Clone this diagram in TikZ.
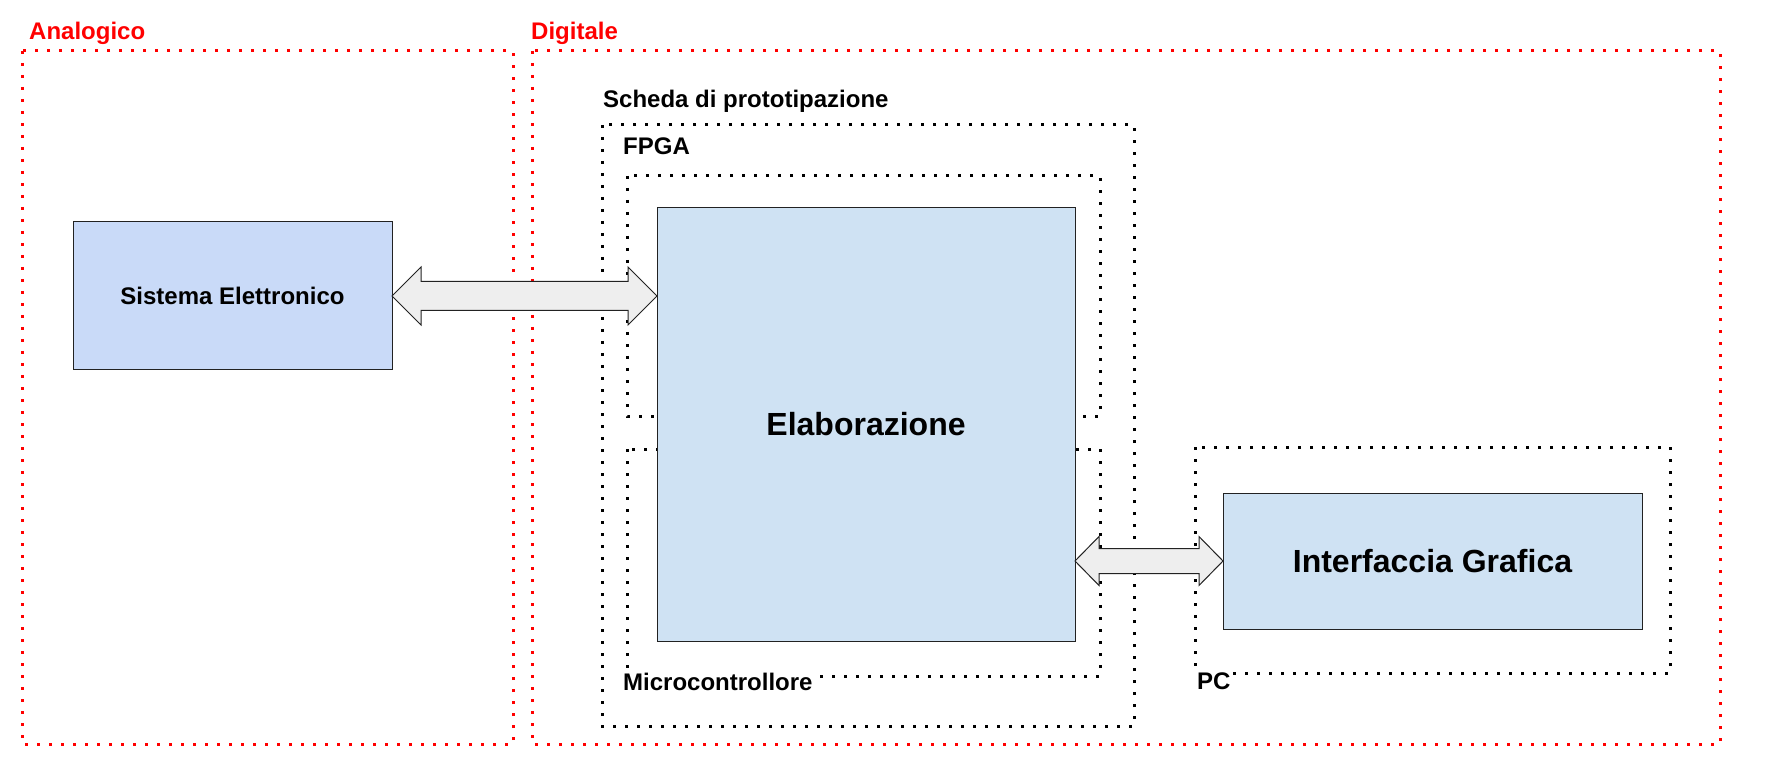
\documentclass[tikz,border=0pt]{standalone}
\usepackage{fontspec}
\setmainfont{Liberation Sans}
\usetikzlibrary{calc}
\definecolor{sysblue}{HTML}{C9DAF8}
\definecolor{procblue}{HTML}{CFE2F3}
\definecolor{arrowgray}{HTML}{EEEEEE}
\definecolor{edgegray}{HTML}{222222}
\begin{document}
\begin{tikzpicture}[x=1pt,y=-1pt,
  zone/.style={red,line width=3pt,dash pattern=on 3pt off 9pt},
  group/.style={black,line width=3pt,dash pattern=on 3pt off 9pt},
  zonelabel/.style={anchor=base west,inner sep=0pt,text=red,font=\fontsize{24}{28}\selectfont\bfseries},
  grouplabel/.style={anchor=base west,inner sep=0pt,font=\fontsize{24}{28}\selectfont\bfseries},
  block/.style={draw=edgegray,line width=1pt,inner sep=0pt,outer sep=0pt},
  bigarrow/.style={draw=edgegray,fill=arrowgray,line width=1pt,line join=miter}]
\useasboundingbox (0,0) rectangle (1773,759);

% analog / digital zones
\draw[zone] (22,51) rectangle (513,744);
\draw[zone] (532,51) rectangle (1720,744);
\node[zonelabel] (analog) at (29,40) {Analogico};
\node[zonelabel] (digital) at (531,40) {Digitale};

% boards
\draw[group] (602,125) rectangle (1134,726);
\draw[group] (627,176) rectangle (1100,416);
\draw[group] (627,449) rectangle (1100,676);
\draw[group] (1195,447) rectangle (1670,673);
\node[grouplabel] (board) at (603,108) {Scheda di prototipazione};
\node[grouplabel] (fpga) at (623,155) {FPGA};
\node[grouplabel,fill=white] (micro) at (623,690) {Microcontrollore};
\node[grouplabel,fill=white] (pc) at (1197,689) {PC};

% blocks
\node[block,fill=sysblue,minimum width=319pt,minimum height=148pt,
  font=\fontsize{24}{28}\selectfont\bfseries] (sis) at (232.5,296) {Sistema Elettronico};
\node[block,fill=procblue,minimum width=418pt,minimum height=433pt,
  font=\fontsize{32}{38}\selectfont\bfseries] (elab) at (866,424.5) {Elaborazione};
\node[block,fill=procblue,minimum width=419pt,minimum height=136pt,
  font=\fontsize{32}{38}\selectfont\bfseries] (gui) at (1432.5,561) {Interfaccia Grafica};

% links
\coordinate (a1) at (sis.east);
\coordinate (a2) at (elab.west |- sis.east);
\draw[bigarrow] (a1) -- ++(29,-29) -- ++(0,14.5) -- ($(a2)+(-29,-14.5)$)
  -- ++(0,-14.5) -- (a2) -- ++(-29,29) -- ++(0,-14.5)
  -- ($(a1)+(29,14.5)$) -- ++(0,14.5) -- cycle;
\coordinate (b1) at (elab.east |- gui.west);
\coordinate (b2) at (gui.west);
\draw[bigarrow] (b1) -- ++(24,-24.5) -- ++(0,12) -- ($(b2)+(-24,-12.5)$)
  -- ++(0,-12) -- (b2) -- ++(-24,24.5) -- ++(0,-12)
  -- ($(b1)+(24,12.5)$) -- ++(0,12) -- cycle;

\end{tikzpicture}
\end{document}
